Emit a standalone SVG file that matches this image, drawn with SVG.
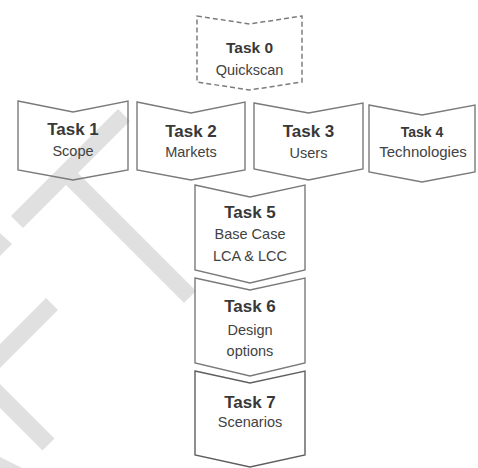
<svg xmlns="http://www.w3.org/2000/svg" width="478" height="468" viewBox="0 0 478 468">
  <style>
    .band { stroke: #e0e0e0; stroke-width: 17; stroke-linecap: butt; fill: none; }
    .bandfill { fill: #e0e0e0; }
    .box { fill: none; stroke: #7a7a7a; stroke-width: 1.4; stroke-linejoin: miter; }
    .dash { stroke-dasharray: 5 3; stroke-width: 1.5; stroke: #7d7d7d; }
    .dark { stroke: #5e5e5e; }
    text { font-family: "Liberation Sans", Arial, sans-serif; text-anchor: middle; }
    .title { font-size: 17px; font-weight: bold; fill: #383838; }
    .sub { font-size: 14.5px; fill: #424242; }
  </style>

  <!-- light grey background stripes -->
  <g id="stripes">
    <line class="band" x1="17" y1="222" x2="124" y2="115"/>
    <line class="band" x1="62" y1="169" x2="190" y2="297"/>
    <line class="band" x1="52" y1="304" x2="-30" y2="386"/>
    <line class="band" x1="48.5" y1="444.5" x2="-30" y2="366"/>
    <polygon class="bandfill" points="0,233 12,244 0,256"/>
    <polygon class="bandfill" points="0,457 22,468 0,468"/>
  </g>

  <g id="connectors"/>

  <g id="task0">
    <path class="box dash" d="M197,16 L249.5,24 L302,16 L302,82 L249.5,90 L197,82 Z"/>
    <text class="title" x="249.5" y="53" style="font-size:15.5px">Task 0</text>
    <text class="sub" x="249.5" y="75">Quickscan</text>
  </g>

  <g id="task1">
    <path class="box" d="M18,101 L73,112 L128,101 L128,170 L73,180 L18,170 Z"/>
    <text class="title" x="73" y="135">Task 1</text>
    <text class="sub" x="73" y="156">Scope</text>
  </g>

  <g id="task2">
    <path class="box" d="M137,102 L191,113 L245,102 L245,170 L191,180 L137,170 Z"/>
    <text class="title" x="191" y="137">Task 2</text>
    <text class="sub" x="191" y="157">Markets</text>
  </g>

  <g id="task3">
    <path class="box" d="M254,103 L308.5,113 L363,103 L363,169 L308.5,180 L254,169 Z"/>
    <text class="title" x="308.5" y="137">Task 3</text>
    <text class="sub" x="308.5" y="158">Users</text>
  </g>

  <g id="task4">
    <path class="box" d="M369,105 L422,115 L475,105 L475,172 L422,182 L369,172 Z"/>
    <text class="title" x="422" y="137" style="font-size:14px">Task 4</text>
    <text class="sub" x="423" y="157" style="font-size:15px">Technologies</text>
  </g>

  <g id="task5">
    <path class="box" d="M195,185 L250,197 L305,185 L305,270 L250,283 L195,270 Z"/>
    <text class="title" x="250" y="218">Task 5</text>
    <text class="sub" x="250" y="239">Base Case</text>
    <text class="sub" x="250" y="261">LCA &amp; LCC</text>
  </g>

  <g id="task6">
    <path class="box" d="M195,278 L250,290 L305,278 L305,363 L250,376 L195,363 Z"/>
    <text class="title" x="250" y="312">Task 6</text>
    <text class="sub" x="250" y="335">Design</text>
    <text class="sub" x="250" y="356">options</text>
  </g>

  <g id="task7">
    <path class="box dark" d="M195,371 L250,383 L305,371 L305,455 L250,467 L195,455 Z"/>
    <text class="title" x="250" y="408">Task 7</text>
    <text class="sub" x="250" y="427">Scenarios</text>
  </g>
</svg>
